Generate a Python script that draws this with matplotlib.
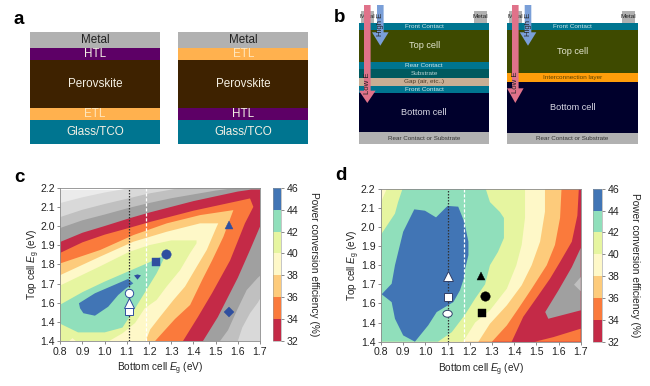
import matplotlib
matplotlib.use("Agg")
import matplotlib.pyplot as plt
from matplotlib.colors import ListedColormap, BoundaryNorm
from matplotlib.colorbar import ColorbarBase
from matplotlib.patches import Ellipse, Polygon, Rectangle

plt.rcParams['font.family'] = ['Liberation Sans', 'DejaVu Sans']
plt.rcParams['mathtext.fontset'] = 'custom'
plt.rcParams['mathtext.rm'] = 'Liberation Sans'
plt.rcParams['mathtext.it'] = 'Liberation Sans:italic'

W, H = 650, 386

# --- schematic layers: (name, thickness, fill, text colour)
METAL, HTL, PERO, ETL, GLASS = '#b1b1b1', '#5d0066', '#3e2200', '#ffb14e', '#007590'
TOP, BOTTOM, SUBST, GAP, INTER = '#3e4a00', '#00002c', '#005a5f', '#c9ae94', '#ff9d0a'
LIGHT = '#f4f0e4'
stack_a1 = [('Metal', 16, METAL, '#222222'), ('HTL', 12, HTL, LIGHT), ('Perovskite', 48, PERO, LIGHT),
            ('ETL', 12, ETL, '#ffe6bd'), ('Glass/TCO', 24, GLASS, LIGHT)]
stack_a2 = [('Metal', 16, METAL, '#222222'), ('ETL', 12, ETL, '#ffe6bd'), ('Perovskite', 48, PERO, LIGHT),
            ('HTL', 12, HTL, LIGHT), ('Glass/TCO', 24, GLASS, LIGHT)]
stack_b1 = [('Front Contact', 7, GLASS, '#cfe6ea', 4.6), ('Top cell', 31.7, TOP, '#e4e6d0', 6.6),
            ('Rear Contact', 7.6, GLASS, '#cfe6ea', 4.6), ('Substrate', 8.7, SUBST, '#b8d4d4', 4.6),
            ('Gap (air, etc..)', 8, GAP, '#4a3a28', 4.6), ('Front Contact', 6.7, GLASS, '#cfe6ea', 4.6),
            ('Bottom cell', 39.6, BOTTOM, '#d8d8e4', 6.6), ('Rear Contact or Substrate', 11.7, METAL, '#333333', 4.5)]
stack_b2 = [('Front Contact', 7, GLASS, '#cfe6ea', 4.6), ('Top cell', 43.3, TOP, '#e4e6d0', 6.6),
            ('Interconnection layer', 8.7, INTER, '#5a4200', 4.6), ('Bottom cell', 50.7, BOTTOM, '#d8d8e4', 6.6),
            ('Rear Contact or Substrate', 11.3, METAL, '#333333', 4.5)]

# --- contour plots
levels = [32, 34, 36, 38, 40, 42, 44, 46]
level_colors = ['#c42a47', '#fa7a3c', '#fdcb7b', '#fef8c8', '#e6f5a0', '#90dfbb', '#4175b5']
GRAY1, GRAY2, GRAY3, GRAY4 = '#a0a0a0', '#c0c0c0', '#d9d9d9', '#ebebeb'
xticks = [0.8, 0.9, 1.0, 1.1, 1.2, 1.3, 1.4, 1.5, 1.6, 1.7]
yticks = [1.4, 1.5, 1.6, 1.7, 1.8, 1.9, 2.0, 2.1, 2.2]
ytick_labels = ['1.4', '1.4', '1.6', '1.7', '1.8', '1.9', '2.0', '2.1', '2.2']

# outlines of each filled band in panel c (eV, eV)
c_gray3 = [(0.8, 2.12), (0.9, 2.15), (1.0, 2.175), (1.1, 2.195), (1.15, 2.21), (1.7, 2.21), (1.7, 1.4), (0.8, 1.4)]
c_gray2 = [(0.8, 2.047), (0.9, 2.085), (1.0, 2.115), (1.11, 2.145), (1.2, 2.17), (1.3, 2.19), (1.38, 2.21),
           (1.7, 2.21), (1.7, 1.62), (1.69, 1.60), (1.655, 1.545), (1.62, 1.47), (1.60, 1.4), (0.8, 1.4)]
c_gray1 = [(0.8, 1.99), (0.9, 2.03), (1.0, 2.06), (1.11, 2.095), (1.2, 2.12), (1.3, 2.145), (1.4, 2.165),
           (1.5, 2.185), (1.6, 2.2), (1.66, 2.21), (1.7, 2.21), (1.7, 1.74), (1.69, 1.73), (1.64, 1.666),
           (1.596, 1.56), (1.556, 1.457), (1.52, 1.4), (0.8, 1.4)]
c_32 = [(0.8, 1.917), (0.9, 1.965), (1.0, 2.0), (1.11, 2.04), (1.2, 2.07), (1.3, 2.10), (1.4, 2.13), (1.5, 2.155),
        (1.6, 2.18), (1.66, 2.19), (1.70, 2.19), (1.70, 1.997), (1.655, 1.875), (1.60, 1.73), (1.51, 1.525),
        (1.443, 1.4), (0.8, 1.4)]
c_34 = [(0.8, 1.86), (0.9, 1.915), (1.0, 1.955), (1.11, 1.99), (1.2, 2.02), (1.3, 2.05), (1.4, 2.08), (1.5, 2.105),
        (1.6, 2.13), (1.655, 2.144), (1.67, 2.10), (1.632, 2.014), (1.565, 1.82), (1.484, 1.65), (1.42, 1.525),
        (1.353, 1.4), (0.8, 1.4)]
c_36 = [(0.8, 1.805), (0.98, 1.875), (1.13, 1.953), (1.28, 2.014), (1.43, 2.057), (1.58, 2.083), (1.535, 1.944),
        (1.484, 1.82), (1.44, 1.72), (1.385, 1.588), (1.317, 1.515), (1.227, 1.4), (0.8, 1.4)]
c_38 = [(0.8, 1.744), (0.979, 1.84), (1.129, 1.918), (1.279, 1.97), (1.43, 2.014), (1.512, 2.014), (1.505, 1.997),
        (1.46, 1.875), (1.415, 1.788), (1.362, 1.684), (1.31, 1.614), (1.25, 1.527), (1.205, 1.46), (1.185, 1.4),
        (0.8, 1.4)]
c_40 = [(0.8, 1.69), (0.98, 1.79), (1.11, 1.865), (1.2, 1.90), (1.3, 1.925), (1.414, 1.925), (1.414, 1.91),
        (1.384, 1.857), (1.34, 1.77), (1.279, 1.684), (1.234, 1.614), (1.18, 1.57), (1.137, 1.494), (1.08, 1.44),
        (1.02, 1.4), (0.87, 1.4), (0.855, 1.415), (0.84, 1.4), (0.8, 1.4)]
c_42 = [(0.8, 1.59), (0.9, 1.655), (1.0, 1.71), (1.11, 1.765), (1.2, 1.81), (1.264, 1.845), (1.264, 1.823),
        (1.234, 1.753), (1.19, 1.67), (1.137, 1.57), (1.08, 1.47), (1.0, 1.445), (0.88, 1.445), (0.8, 1.49)]
c_44 = [(0.884, 1.597), (0.956, 1.649), (1.024, 1.683), (1.106, 1.724), (1.129, 1.701), (1.092, 1.671),
        (1.061, 1.64), (1.016, 1.579), (0.956, 1.532), (0.904, 1.545), (0.889, 1.571)]
c_bands = [(c_gray3, GRAY3), (c_gray2, GRAY2), (c_gray1, GRAY1), (c_32, level_colors[0]), (c_34, level_colors[1]),
           (c_36, level_colors[2]), (c_38, level_colors[3]), (c_40, level_colors[4]), (c_42, level_colors[5]),
           (c_44, level_colors[6])]

# outlines in panel d
d_34 = [(0.8, 2.21), (1.692, 2.21), (1.685, 2.06), (1.66, 1.923), (1.607, 1.817), (1.562, 1.73), (1.509, 1.642),
        (1.441, 1.53), (1.389, 1.4), (0.8, 1.4)]
d_34_corner = [(1.494, 1.4), (1.577, 1.424), (1.70, 1.468), (1.70, 1.4)]
d_36 = [(0.8, 2.21), (1.614, 2.21), (1.607, 2.047), (1.584, 1.906), (1.547, 1.80), (1.479, 1.677), (1.419, 1.573),
        (1.367, 1.485), (1.30, 1.4), (0.8, 1.4)]
d_38 = [(0.8, 2.21), (1.539, 2.21), (1.539, 2.08), (1.517, 1.923), (1.479, 1.80), (1.434, 1.695), (1.367, 1.59),
        (1.291, 1.494), (1.239, 1.4), (0.8, 1.4)]
d_40 = [(0.83, 2.21), (1.449, 2.21), (1.449, 2.047), (1.434, 1.906), (1.41, 1.80), (1.367, 1.677), (1.291, 1.564),
        (1.224, 1.50), (1.17, 1.4), (0.8, 1.4), (0.8, 2.13)]
d_42 = [(0.9, 2.21), (1.269, 2.21), (1.291, 2.13), (1.336, 2.078), (1.354, 2.047), (1.354, 1.942), (1.327, 1.869),
        (1.291, 1.80), (1.269, 1.70), (1.224, 1.625), (1.178, 1.54), (1.119, 1.45), (1.057, 1.4), (0.8, 1.4),
        (0.8, 1.96), (0.863, 2.07), (0.877, 2.13)]
d_44 = [(0.95, 2.092), (0.998, 2.085), (1.048, 2.05), (1.10, 2.11), (1.148, 2.106), (1.175, 2.028), (1.194, 1.923),
        (1.194, 1.853), (1.178, 1.775), (1.178, 1.747), (1.156, 1.669), (1.126, 1.607), (1.051, 1.555), (1.013, 1.486),
        (0.953, 1.4), (0.90, 1.433), (0.863, 1.52), (0.848, 1.607), (0.803, 1.648), (0.848, 1.703), (0.863, 1.80),
        (0.90, 1.975)]
d_gray = [(1.70, 1.89), (1.66, 1.79), (1.60, 1.669), (1.54, 1.555), (1.554, 1.52), (1.70, 1.564)]
d_gray_spot = [(1.70, 1.738), (1.67, 1.698), (1.70, 1.664)]
d_bands = [(d_34, level_colors[1]), (d_34_corner, level_colors[1]), (d_36, level_colors[2]), (d_38, level_colors[3]),
           (d_40, level_colors[4]), (d_42, level_colors[5]), (d_44, level_colors[6]), (d_gray, GRAY1),
           (d_gray_spot, GRAY2)]

# marker positions
c_open_x, c_open_circle, c_open_tri, c_open_square = 1.11, 1.649, 1.597, 1.558
c_blue = {'o': (1.275, 1.854), 's': (1.231, 1.814), '^': (1.562, 2.003), 'D': (1.559, 1.551)}
c_kite = (1.147, 1.741)
d_open_x, d_open_tri, d_open_square, d_open_ellipse = 1.10, 1.742, 1.634, 1.546
d_black = {'^': (1.25, 1.742), 'o': (1.269, 1.64), 's': (1.254, 1.552)}
marker_sizes = {'o': 6.8, 's': 5.6, '^': 6.4, 'D': 4.6}


def px_axes(fig, left, top, right, bottom):
    return fig.add_axes([left / W, 1 - bottom / H, (right - left) / W, (bottom - top) / H])


def draw_stack(ax, stack, x0, x1, y0):
    y = y0
    for row in stack:
        name, h, fill, tc = row[:4]
        size = row[4] if len(row) > 4 else 8.4
        ax.add_patch(Rectangle((x0, y), x1 - x0, h, fc=fill, ec='none'))
        ax.text((x0 + x1) / 2, y + h / 2, name, color=tc, fontsize=size, ha='center', va='center')
        y += h


def draw_arrow(ax, xc, top, base, tip, color):
    pts = [(xc - 3.3, top), (xc + 3.3, top), (xc + 3.3, base), (xc + 8.3, base), (xc, tip), (xc - 8.3, base),
           (xc - 3.3, base)]
    ax.add_patch(Polygon(pts, closed=True, fc=color, ec='none', zorder=5))


def contour_panel(fig, box, cbox, bg, bands, dotted_x, dashed_x, ymax):
    ax = px_axes(fig, *box)
    ax.set_xlim(0.8, 1.7)
    ax.set_ylim(1.4, 2.2)
    ax.add_patch(Rectangle((0.8, 1.4), 0.9, ymax - 1.4, fc=bg, ec='none', zorder=0))
    for pts, col in bands:
        ax.fill([p[0] for p in pts], [p[1] for p in pts], color=col, lw=0, zorder=1)
    ax.axvline(dotted_x, color='#333333', lw=0.9, ls=(0, (1.2, 1.2)), zorder=2)
    ax.axvline(dashed_x, color='white', lw=0.9, ls=(0, (2.6, 1.4)), zorder=2)
    ax.set_xticks(xticks)
    ax.set_xticklabels(['%.1f' % t for t in xticks])
    ax.set_yticks(yticks)
    ax.set_yticklabels(ytick_labels)
    ax.tick_params(length=2.5, width=0.6, color='#777777', labelsize=7.6, pad=1.5, labelcolor='#222222')
    for s in ax.spines.values():
        s.set_linewidth(0.6)
        s.set_color('#8a8a8a')
    ax.set_xlabel('Bottom cell $E_{\\mathrm{g}}$ (eV)', fontsize=7.2, labelpad=3, color='#222222')
    ax.set_ylabel('Top cell $E_{\\mathrm{g}}$ (eV)', fontsize=7.2, labelpad=-1, color='#222222')

    cax = px_axes(fig, *cbox)
    cmap = ListedColormap(level_colors)
    cb = ColorbarBase(cax, cmap=cmap, norm=BoundaryNorm(levels, cmap.N), ticks=levels, spacing='uniform')
    cb.outline.set_linewidth(0.4)
    cb.outline.set_edgecolor('#999999')
    cax.tick_params(length=2.5, width=0.6, color='#777777', labelsize=7.6, pad=1.5, labelcolor='#222222')
    cb.set_label('Power conversion efficiency (%)', rotation=270, fontsize=7.3, labelpad=15, color='#222222')
    return ax


fig = plt.figure(figsize=(W / 100, H / 100), dpi=100)

bgax = fig.add_axes([0, 0, 1, 1])
bgax.set_xlim(0, W)
bgax.set_ylim(H, 0)
bgax.axis('off')

draw_stack(bgax, stack_a1, 30, 159.7, 32.3)
draw_stack(bgax, stack_a2, 178.3, 308.3, 32.3)

for mx in [361, 474, 509, 621.7]:
    bgax.add_patch(Rectangle((mx, 11), 13.3, 12, fc=METAL, ec='none'))
    bgax.text(mx + 6.7, 16.5, 'Metal', fontsize=4.6, color='#222222', ha='center', va='center')
draw_stack(bgax, stack_b1, 359.3, 489.3, 23)
draw_stack(bgax, stack_b2, 507.3, 637.7, 23)

draw_arrow(bgax, 367.3, 5, 90.7, 103, '#e0728a')
draw_arrow(bgax, 515.3, 5, 88.3, 103, '#e0728a')
draw_arrow(bgax, 380.3, 5, 32.3, 45.7, '#7a9fd8')
draw_arrow(bgax, 528, 5, 32.3, 45.7, '#7a9fd8')
for tx, ty, label in [(367.3, 83, 'Low E'), (515.3, 82, 'Low E'), (380.3, 24, 'High E'), (528, 24, 'High E')]:
    bgax.text(tx, ty, label, rotation=90, fontsize=5.6, color='#222222', ha='center', va='center', zorder=6)

for x, y, letter in [(19, 19, 'a'), (340, 18, 'b'), (19, 178, 'c'), (341, 176, 'd')]:
    bgax.text(x, y, letter, fontsize=13.5, fontweight='bold', ha='center', va='center', color='black')

ax_c = contour_panel(fig, (60.3, 187.7, 260, 341), (272.7, 187.7, 280.7, 341), GRAY4, c_bands, 1.11, 1.185, 2.19)
ax_d = contour_panel(fig, (381, 188.7, 580.7, 341.7), (593.3, 188.7, 601.7, 341.7), level_colors[0], d_bands, 1.10,
                     1.175, 2.2)

BLUE = '#2f4f9f'
ax_c.plot(c_open_x, c_open_square, 's', ms=5.8, mfc='white', mec=BLUE, mew=0.7, zorder=3)
ax_c.plot(c_open_x, c_open_tri, '^', ms=6.8, mfc='white', mec=BLUE, mew=0.7, zorder=4)
ax_c.plot(c_open_x, c_open_circle, 'o', ms=6.0, mfc='white', mec=BLUE, mew=0.7, zorder=5)
for m, (x, y) in c_blue.items():
    ax_c.plot(x, y, m, ms=marker_sizes[m], mfc=BLUE, mec=BLUE, mew=0.3, zorder=4)
ax_c.plot(c_kite[0], c_kite[1], marker=[(-1, 0.3), (0, 0.6), (1, 0.3), (0, -0.9)], ms=5, mfc=BLUE, mec='none', zorder=4)

ax_d.plot(d_open_x, d_open_tri, '^', ms=7.2, mfc='white', mec='#30406a', mew=0.7, zorder=4)
ax_d.plot(d_open_x, d_open_square, 's', ms=6, mfc='white', mec='#30406a', mew=0.7, zorder=4)
ax_d.add_patch(Ellipse((d_open_x, d_open_ellipse), 0.042, 0.036, fc='white', ec='#30406a', lw=0.7, zorder=4))
for m, (x, y) in d_black.items():
    ax_d.plot(x, y, m, ms=marker_sizes[m], mfc='black', mec='black', mew=0.3, zorder=4)

fig.savefig('out.png', dpi=100)
